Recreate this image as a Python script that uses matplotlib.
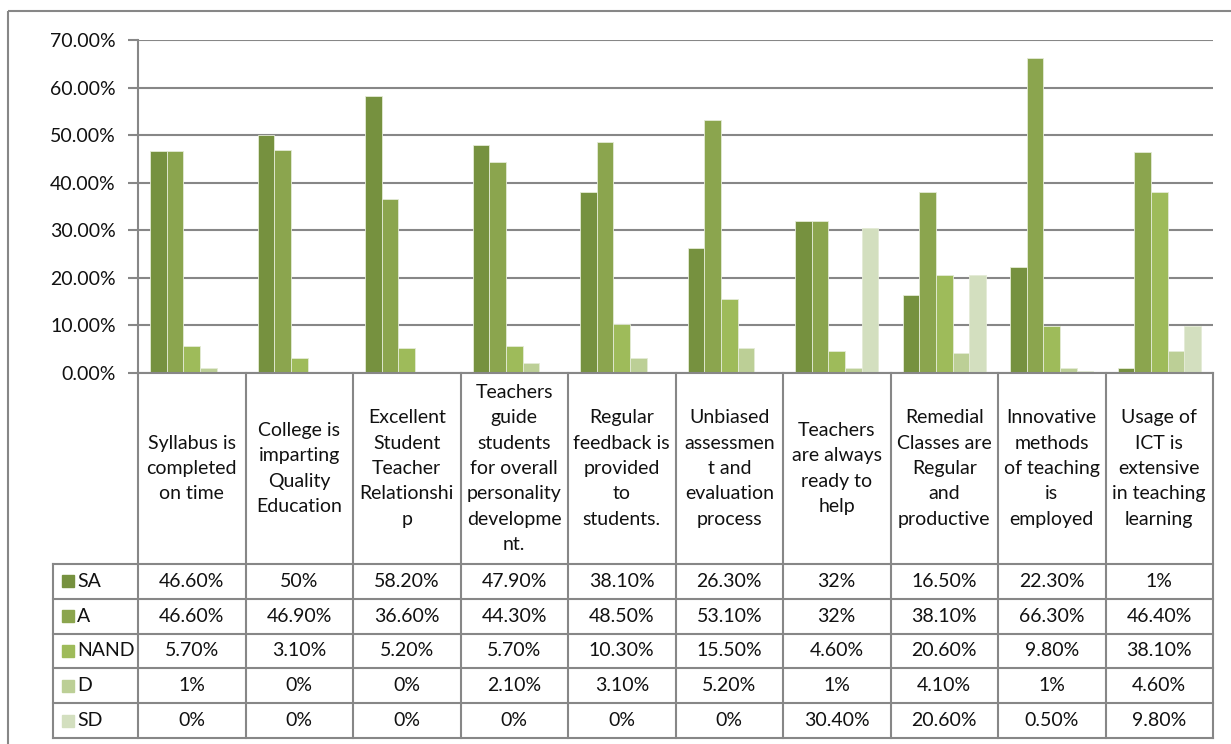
import matplotlib.pyplot as plt
import matplotlib.patches as patches
import numpy as np

# ---- data ----
categorias = [
    "Syllabus is\ncompleted\non time",
    "College is\nimparting\nQuality\nEducation",
    "Excellent\nStudent\nTeacher\nRelationshi\np",
    "Teachers\nguide\nstudents\nfor overall\npersonality\ndevelopme\nnt.",
    "Regular\nfeedback is\nprovided\nto\nstudents.",
    "Unbiased\nassessmen\nt and\nevaluation\nprocess",
    "Teachers\nare always\nready to\nhelp",
    "Remedial\nClasses are\nRegular\nand\nproductive",
    "Innovative\nmethods\nof teaching\nis\nemployed",
    "Usage of\nICT is\nextensive\nin teaching\nlearning",
]
series = ["SA", "A", "NAND", "D", "SD"]
sa   = [46.6, 50.0, 58.2, 47.9, 38.1, 26.3, 32.0, 16.5, 22.3, 1.0]
a    = [46.6, 46.9, 36.6, 44.3, 48.5, 53.1, 32.0, 38.1, 66.3, 46.4]
nand = [5.7, 3.1, 5.2, 5.7, 10.3, 15.5, 4.6, 20.6, 9.8, 38.1]
d    = [1.0, 0.0, 0.0, 2.1, 3.1, 5.2, 1.0, 4.1, 1.0, 4.6]
sd   = [0.0, 0.0, 0.0, 0.0, 0.0, 0.0, 30.4, 20.6, 0.5, 9.8]
rotulos = [
    ["46.60%", "50%", "58.20%", "47.90%", "38.10%", "26.30%", "32%", "16.50%", "22.30%", "1%"],
    ["46.60%", "46.90%", "36.60%", "44.30%", "48.50%", "53.10%", "32%", "38.10%", "66.30%", "46.40%"],
    ["5.70%", "3.10%", "5.20%", "5.70%", "10.30%", "15.50%", "4.60%", "20.60%", "9.80%", "38.10%"],
    ["1%", "0%", "0%", "2.10%", "3.10%", "5.20%", "1%", "4.10%", "1%", "4.60%"],
    ["0%", "0%", "0%", "0%", "0%", "0%", "30.40%", "20.60%", "0.50%", "9.80%"],
]
yticks = [0, 10, 20, 30, 40, 50, 60, 70]

CORES = ["#76913F", "#8BA54E", "#9EBB5A", "#BCCF96", "#D3DFBF"]
CINZA = "#878787"
FONTE = "Lato"
FS = 14
TXT = "#111111"

W, H = 1231, 744
fig = plt.figure(figsize=(W / 100, H / 100), dpi=100)

# layout in pixels
x0, x1 = 138, 1213
ytop, ybase = 40, 373
ycat = 564
row_h = 34.8
xleg = 53
ncat = len(categorias)
col_w = (x1 - x0) / ncat

ax = fig.add_axes([x0 / W, 1 - ybase / H, (x1 - x0) / W, (ybase - ytop) / H])
ax.set_xlim(-0.5, ncat - 0.5)
ax.set_ylim(0, 70)

dados = [sa, a, nand, d, sd]
bw = 0.155
x = np.arange(ncat)
for k, vals in enumerate(dados):
    ax.bar(x + (k - 2) * bw, vals, width=bw, color=CORES[k],
           edgecolor="#E4EBD6", linewidth=0.6, zorder=3)

ax.set_yticks(yticks)
ax.set_yticklabels([f"{v:.2f}%" for v in yticks], fontsize=FS, family=FONTE,
                   color=TXT)
ax.yaxis.grid(True, color=CINZA, linewidth=1.5, zorder=0)
ax.tick_params(axis="y", length=7, width=1.5, color=CINZA, pad=9)
ax.set_xticks([])
for s in ["top", "right", "bottom"]:
    ax.spines[s].set_visible(False)
ax.spines["left"].set_color(CINZA)
ax.spines["left"].set_linewidth(1.5)

# ---- tabela de dados (overlay em pixels) ----
tab = fig.add_axes([0, 0, 1, 1])
tab.set_xlim(0, W)
tab.set_ylim(H, 0)
tab.axis("off")
tab.patch.set_alpha(0)

lw = 1.5
ybot = ycat + row_h * len(series)
# moldura externa do grafico
tab.add_patch(patches.Rectangle((8, 11), W + 20, H, fill=False,
                                edgecolor=CINZA, linewidth=1.5))
# linhas horizontais
tab.plot([x0, x1], [ybase, ybase], color=CINZA, lw=lw)
for r in range(len(series) + 1):
    yy = ycat + r * row_h
    tab.plot([xleg, x1], [yy, yy], color=CINZA, lw=lw)
# linhas verticais
for c in range(ncat + 1):
    xx = x0 + c * col_w
    tab.plot([xx, xx], [ybase, ybot], color=CINZA, lw=lw)
tab.plot([xleg, xleg], [ycat, ybot], color=CINZA, lw=lw)

# rotulos das categorias
for c, cat in enumerate(categorias):
    tab.text(x0 + (c + 0.5) * col_w, (ybase + ycat) / 2, cat, ha="center",
             va="center", fontsize=FS, family=FONTE, linespacing=1.6,
             color=TXT)

# linhas de series
for r, nome in enumerate(series):
    yc = ycat + (r + 0.5) * row_h
    tab.add_patch(patches.Rectangle((62, yc - 6), 12, 12, color=CORES[r]))
    tab.text(77, yc, nome, ha="left", va="center", fontsize=FS,
             family=FONTE, color=TXT)
    for c in range(ncat):
        tab.text(x0 + (c + 0.5) * col_w, yc, rotulos[r][c], ha="center",
                 va="center", fontsize=FS, family=FONTE, color=TXT)

fig.savefig("out.png", dpi=100)
